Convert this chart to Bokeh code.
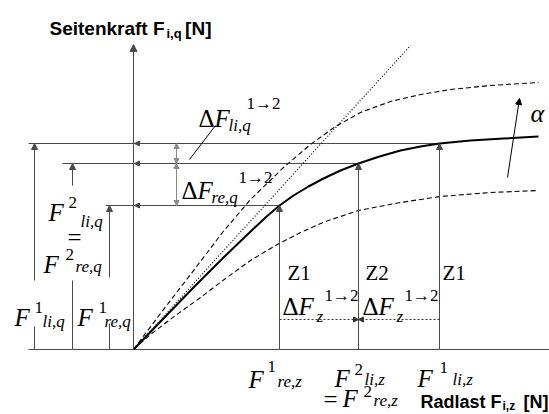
from bokeh.plotting import figure
from bokeh.models import Range1d, Arrow, NormalHead, ColumnDataSource
from bokeh.core.properties import value
from bokeh.embed import file_html
from bokeh.resources import INLINE

# ---------------------------------------------------------------------------
# Data (schematic units: Radlast F_z to the right, Seitenkraft F_q upwards)
# ---------------------------------------------------------------------------
# Operating points on the reference characteristic
fz_points = [146, 225, 306]   # F1_re,z | F2_li,z = F2_re,z | F1_li,z
fq_points = [144, 186, 206]   # F1_re,q | F2_li,q = F2_re,q | F1_li,q

# Side force over wheel load, reference slip angle (solid)
curve_mid_x = [0, 30, 60, 90, 115, 132, 146, 160, 175, 190, 207, 225, 246, 267, 287, 306, 337, 370, 405]
curve_mid_y = [0, 31, 62, 92, 116, 132, 144, 154, 163, 171, 179, 186, 193, 199, 203, 206, 209, 211, 213]
# larger slip angle (dashed, upper)
curve_hi_x = [0, 27, 57, 89, 117, 150, 177, 202, 227, 257, 287, 317, 357, 405]
curve_hi_y = [0, 36, 75, 117, 150, 182, 205, 223, 237, 248, 255, 260, 264, 267]
# smaller slip angle (dashed, lower)
curve_lo_x = [0, 17, 42, 67, 92, 117, 142, 167, 192, 225, 267, 307, 357, 405]
curve_lo_y = [0, 15, 34, 52, 71, 89, 104, 117, 128, 139, 147, 153, 157, 159]
# initial slope (dotted)
tangent_x = [0, 277]
tangent_y = [0, 304]

# Left-hand dimension arrows for the three side-force levels
level_left = [-28, -71, -105]     # where each level line starts
dim_x = [-24, -61, -99]           # x of the dimension arrow per level
dim_gap_lo = [26, 69, 23]         # gap in the arrow shaft left for its label
dim_gap_hi = [72, 164, 69]

LINE = "#4a4a4a"
LIGHT = "#8a8a8a"
SERIF = value("'Liberation Serif'")
SANS = value("'Liberation Sans'")

p = figure(width=549, height=414, x_range=Range1d(-133, 416), y_range=Range1d(-65, 349),
           x_axis_type=None, y_axis_type=None, output_backend="svg",
           toolbar_location=None, min_border=0)
p.grid.visible = False
p.outline_line_color = None
p.background_fill_color = "white"
p.border_fill_color = "white"


def head(size=6, color=LINE):
    return NormalHead(size=size, fill_color=color, line_color=color, line_width=1)


def arrows(x0, y0, x1, y1, color=LINE, dash="solid", both=False, size=6):
    src = ColumnDataSource(dict(x0=x0, y0=y0, x1=x1, y1=y1))
    p.add_layout(Arrow(end=head(size, color), start=head(size, color) if both else None,
                       source=src, x_start="x0", y_start="y0", x_end="x1", y_end="y1",
                       line_color=color, line_width=1, line_dash=dash))


# axes
p.segment(x0=[level_left[2]], y0=[0], x1=[416], y1=[0], line_color=LINE, line_width=1.2)
arrows([0], [0], [0], [305], color=LINE, size=7)

# horizontal level lines from the left up to the operating points
p.segment(x0=level_left, y0=fq_points, x1=fz_points, y1=fq_points, line_color=LINE, line_width=1.2)
# small heads where the levels meet the vertical axis
arrows([9, 9, 9], fq_points, [1, 1, 1], fq_points, size=5)

# left dimension arrows (shaft broken for labels)
p.segment(x0=dim_x, y0=[0, 0, 0], x1=dim_x, y1=dim_gap_lo, line_color=LINE, line_width=1)
arrows(dim_x, dim_gap_hi, dim_x, fq_points, size=6)

# vertical arrows from the load axis up to the operating points
arrows(fz_points, [0, 0, 0], fz_points, fq_points, size=6)

# Delta F_q dimension arrows
arrows([43, 43], [fq_points[1], fq_points[0]], [43, 43], [fq_points[2], fq_points[1]],
       color=LIGHT, both=True, size=5)
# leader line for Delta F_li,q
p.segment(x0=[56], y0=[190], x1=[82], y1=[224], line_color="black", line_width=1)

# Delta F_z arrows (dashed)
arrows([fz_points[0], fz_points[2]], [30, 30], [fz_points[1], fz_points[1]], [30, 30],
       color="#333333", dash="2 2", size=5)

# characteristic curves
p.line(tangent_x, tangent_y, line_color="black", line_width=1.2, line_dash="1 2")
p.line(curve_hi_x, curve_hi_y, line_color="black", line_width=1.1, line_dash="5 3")
p.line(curve_lo_x, curve_lo_y, line_color="black", line_width=1.1, line_dash="5 3")
p.line(curve_mid_x, curve_mid_y, line_color="black", line_width=2, line_join="round")

# slip angle direction
arrows([374], [172], [386], [251], color="black", size=6)


# ---------------------------------------------------------------------------
# Labels (positions in canvas pixels, baseline anchored)
# ---------------------------------------------------------------------------
def lab(px, py, s, size, italic=False, font=SERIF, bold=False, align="left"):
    style = "bold" if bold else ("italic" if italic else "normal")
    p.text(x=[px - 133], y=[349 - py], text=[s], text_font=font,
           text_font_size=f"{size}px", text_font_style=style,
           text_baseline="alphabetic", text_align=align, text_color="black")


BIG, SMALL = 25, 17


def dF(px, py, sub, sup, sub_dx, sub_dy, sup_dx, sup_dy):
    lab(px, py, "\u0394", BIG)
    lab(px + 16, py, "F", BIG, italic=True)
    lab(px + sub_dx, py + sub_dy, sub, SMALL, italic=True)
    lab(px + sup_dx, py + sup_dy, sup, SMALL)


def Fsym(px, py, sup, sub, sup_dx, sup_dy, sub_dx, sub_dy):
    lab(px, py, "F", BIG, italic=True)
    lab(px + sup_dx, py + sup_dy, sup, SMALL)
    lab(px + sub_dx, py + sub_dy, sub, SMALL, italic=True)


# axis titles
lab(49, 28, "Seitenkraft F", 19, font=SANS, bold=True)
lab(166, 33, "i,q", 13, font=SANS, bold=True)
lab(211, 28, "[N]", 19, font=SANS, bold=True, align="right")
lab(420, 401, "Radlast F", 18, font=SANS, bold=True)
lab(502, 405, "i,z", 12, font=SANS, bold=True)
lab(548, 401, "[N]", 18, font=SANS, bold=True, align="right")

# side-force differences
dF(198, 118, "li,q", "1\u21922", 30, 7, 48, -15)
dF(181, 190, "re,q", "1\u21922", 30, 7, 57, -13)

# side-force levels
Fsym(48, 212, "2", "li,q", 20, -10, 32, 9)
lab(67, 237, "=", BIG)
Fsym(43, 264, "2", "re,q", 22, -10, 32, 2)
Fsym(14, 317, "1", "li,q", 20, -10, 28, 4)
Fsym(77, 317, "1", "re,q", 21, -10, 27, 4)

# wheel states
lab(287, 272, "Z1", 21)
lab(365, 272, "Z2", 21)
lab(442, 272, "Z1", 21)

# wheel-load differences
dF(282, 306, "z", "1\u21922", 34, 10, 42, -11)
dF(362, 306, "z", "1\u21922", 34, 10, 42, -11)

# wheel-load levels
Fsym(248, 379, "1", "re,z", 19, -13, 29, 2)
Fsym(334, 378, "2", "li,z", 20, -9, 30, 1)
lab(323, 399, "=", BIG)
Fsym(342, 398, "2", "re,z", 21, -7, 31, 2)
Fsym(417, 378, "1", "li,z", 22, -11, 35, 1)

# slip angle
lab(530, 113, "\u03b1", 26, italic=True)

open("out.html", "w").write(file_html(p, INLINE))
